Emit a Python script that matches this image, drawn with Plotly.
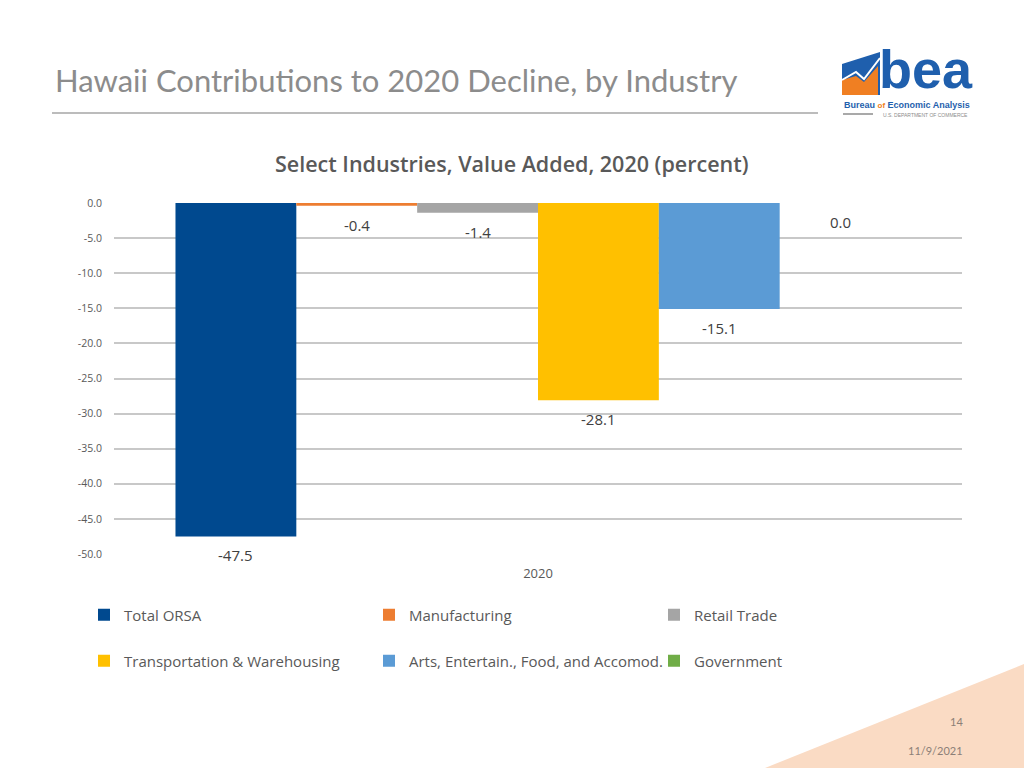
import plotly.graph_objects as go

categories = ["2020"]
series_names = ["Total ORSA", "Manufacturing", "Retail Trade",
                "Transportation & Warehousing", "Arts, Entertain., Food, and Accomod.", "Government"]
series_values = [-47.5, -0.4, -1.4, -28.1, -15.1, 0.0]
series_colors = ["#00498F", "#ED7D31", "#A5A5A5", "#FFC000", "#5B9BD5", "#70AD47"]
ytick_vals = [0, -5, -10, -15, -20, -25, -30, -35, -40, -45, -50]
ytick_text = ["0.0", "-5.0", "-10.0", "-15.0", "-20.0", "-25.0", "-30.0", "-35.0", "-40.0", "-45.0", "-50.0"]

FONT = "Open Sans, Segoe UI, sans-serif"
TFONT = "Lato, Calibri, sans-serif"
W, H = 1024, 768
L, R, T, B = 114, 962, 203, 554
BARGAP = 0.145
N = len(series_names)


def px(x):
    return (x - L) / (R - L)


def py(y):
    return (B - y) / (B - T)


fig = go.Figure()
annotations = []
for i, (name, val, col) in enumerate(zip(series_names, series_values, series_colors)):
    fig.add_trace(go.Bar(
        x=categories, y=[val], name=name,
        marker=dict(color=col, line=dict(width=0)),
        cliponaxis=False,
        legend="legend" if i < 3 else "legend2",
    ))
    # value label just below the end of each (negative) bar
    annotations.append(dict(x=(i - (N - 1) / 2) * (1 - BARGAP) / N, y=val, xref="x", yref="y",
                            text=f"{val:.1f}", showarrow=False, yanchor="top", yshift=-7,
                            font=dict(family=FONT, size=15, color="#404040")))

legend_common = dict(orientation="h", xanchor="left", yanchor="middle",
                     entrywidth=240, entrywidthmode="pixels",
                     font=dict(family=FONT, size=15, color="#595959"),
                     itemwidth=30, bgcolor="rgba(0,0,0,0)")

fig.update_layout(
    width=W, height=H,
    margin=dict(l=L, r=W - R, t=T, b=H - B),
    paper_bgcolor="white", plot_bgcolor="white",
    barmode="group", bargap=BARGAP, bargroupgap=0,
    font=dict(family=FONT, color="#595959"),
    showlegend=True,
    legend=dict(x=px(84), y=py(615), **legend_common),
    legend2=dict(x=px(84), y=py(661), **legend_common),
    xaxis=dict(showline=False, showgrid=False, zeroline=False, ticks="", ticklabelstandoff=10,
               tickfont=dict(family=FONT, size=13, color="#595959")),
    yaxis=dict(range=[-50, 0], tickvals=ytick_vals, ticktext=ytick_text,
               showgrid=True, gridcolor="#C8C8C8", gridwidth=2, zeroline=False,
               showline=False, ticks="", ticklabelstandoff=11,
               tickfont=dict(family=FONT, size=10.5, color="#595959")),
)

shapes = []

# slide title and rule
annotations.append(dict(x=px(53), y=py(80), xref="paper", yref="paper", xanchor="left", yanchor="middle",
                        text="Hawaii Contributions to 2020 Decline, by Industry", showarrow=False,
                        font=dict(family=TFONT, size=31, color="#8C8C8C")))
shapes.append(dict(type="line", xref="paper", yref="paper", x0=px(52), x1=px(818), y0=py(113), y1=py(113),
                   line=dict(color="#A6A6A6", width=1.5)))

# chart title
annotations.append(dict(x=px(512), y=py(163), xref="paper", yref="paper", xanchor="center", yanchor="middle",
                        text="Select Industries, Value Added, 2020 (percent)", showarrow=False,
                        font=dict(family=FONT, size=21.5, color="#595959", weight=600)))

# footer triangle
shapes.append(dict(type="path", xref="paper", yref="paper",
                   path=f"M {px(765)},{py(768)} L {px(1024)},{py(664)} L {px(1024)},{py(768)} Z",
                   fillcolor="#FADBC4", line=dict(width=0), layer="below"))
annotations.append(dict(x=px(956), y=py(721), xref="paper", yref="paper", xanchor="center", yanchor="middle",
                        text="14", showarrow=False, font=dict(family=TFONT, size=11, color="#8C7F77")))
annotations.append(dict(x=px(935), y=py(750), xref="paper", yref="paper", xanchor="center", yanchor="middle",
                        text="11/9/2021", showarrow=False, font=dict(family=TFONT, size=11, color="#8C7F77")))

# BEA logo (approximation)
shapes.append(dict(type="path", xref="paper", yref="paper",
                   path=f"M {px(842)},{py(95)} L {px(842)},{py(64)} L {px(880)},{py(52)} L {px(880)},{py(95)} Z",
                   fillcolor="#1F5FAD", line=dict(width=0)))
shapes.append(dict(type="path", xref="paper", yref="paper",
                   path=f"M {px(842)},{py(95)} L {px(842)},{py(80)} L {px(856)},{py(76)} L {px(864)},{py(82)} L {px(878)},{py(66)} L {px(878)},{py(95)} Z",
                   fillcolor="#F07F22", line=dict(width=0)))
shapes.append(dict(type="path", xref="paper", yref="paper",
                   path=f"M {px(842)},{py(80)} L {px(856)},{py(72)} L {px(864)},{py(79)} L {px(880)},{py(58)}",
                   line=dict(color="white", width=2)))
annotations.append(dict(x=px(926), y=py(69), xref="paper", yref="paper", xanchor="center", yanchor="middle",
                        text="<b>bea</b>", showarrow=False,
                        font=dict(family="Arial, Liberation Sans, sans-serif", size=54, color="#1F5FAD")))
annotations.append(dict(x=px(907), y=py(105), xref="paper", yref="paper", xanchor="center", yanchor="middle",
                        text="<b>Bureau <span style='color:#F07F22;font-size:8px'>of</span> Economic Analysis</b>",
                        showarrow=False,
                        font=dict(family="Arial, Liberation Sans, sans-serif", size=9, color="#1F5FAD")))
shapes.append(dict(type="line", xref="paper", yref="paper", x0=px(843), x1=px(873), y0=py(114), y1=py(114),
                   line=dict(color="#8C8C8C", width=1.5)))
annotations.append(dict(x=px(925), y=py(114.5), xref="paper", yref="paper", xanchor="center", yanchor="middle",
                        text="U.S. DEPARTMENT OF COMMERCE", showarrow=False,
                        font=dict(family="Arial, Liberation Sans, sans-serif", size=5, color="#8C8C8C")))

fig.update_layout(shapes=shapes, annotations=annotations)
fig.write_html("out.html", config={"displayModeBar": False},
               post_script="document.body.style.margin='0';document.body.style.overflow='hidden';")
